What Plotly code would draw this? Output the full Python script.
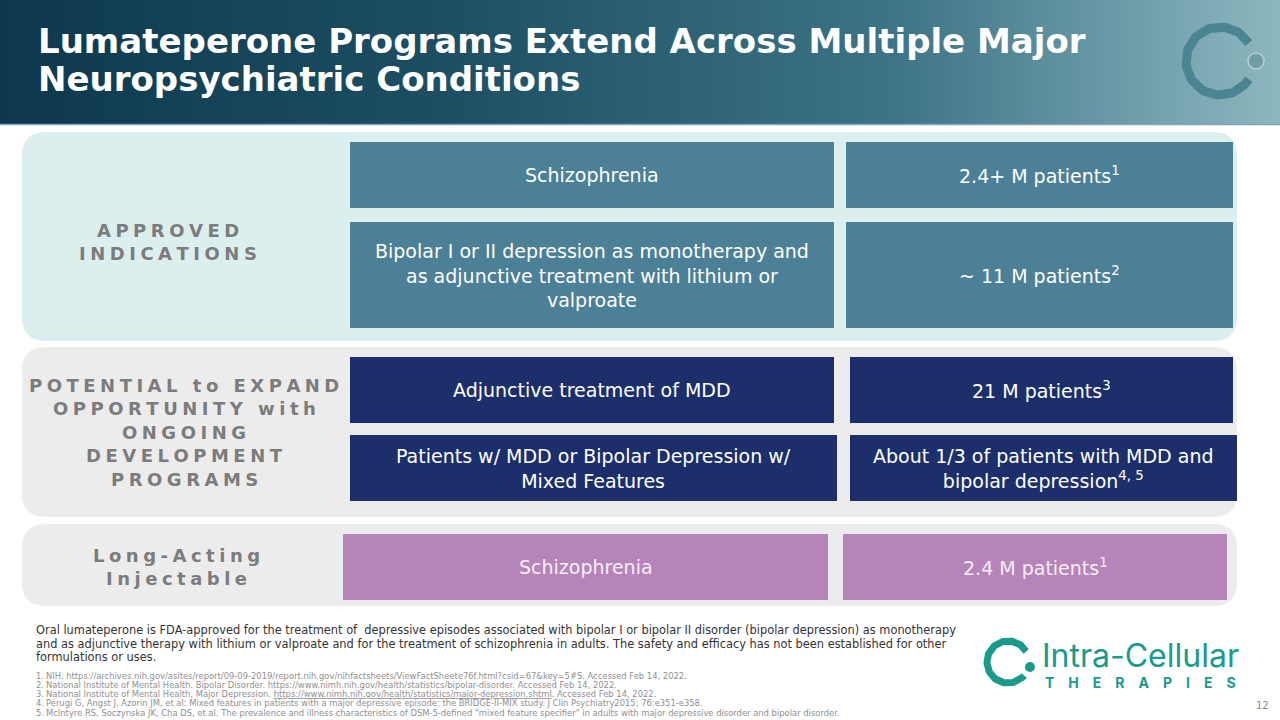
import numpy as np
import plotly.graph_objects as go

# ---------------- data ----------------
title_lines = ["Lumateperone Programs Extend Across Multiple Major", "Neuropsychiatric Conditions"]
section_labels = [
    ["APPROVED", "INDICATIONS"],
    ["POTENTIAL to EXPAND", "OPPORTUNITY with", "ONGOING", "DEVELOPMENT", "PROGRAMS"],
    ["Long-Acting", "Injectable"],
]
indications = [
    "Schizophrenia",
    "Bipolar I or II depression as monotherapy and<br>as adjunctive treatment with lithium or<br>valproate",
    "Adjunctive treatment of MDD",
    "Patients w/ MDD or Bipolar Depression w/<br>Mixed Features",
    "Schizophrenia",
]
patients = [
    "2.4+ M patients<sup>1</sup>",
    "~ 11 M patients<sup>2</sup>",
    "21 M patients<sup>3</sup>",
    "About 1/3 of patients with MDD and<br>bipolar depression<sup>4, 5</sup>",
    "2.4 M patients<sup>1</sup>",
]
row_section = [0, 0, 1, 1, 2]
disclaimer = [
    "Oral lumateperone is FDA-approved for the treatment of  depressive episodes associated with bipolar I or bipolar II disorder (bipolar depression) as monotherapy",
    "and as adjunctive therapy with lithium or valproate and for the treatment of schizophrenia in adults. The safety and efficacy has not been established for other",
    "formulations or uses.",
]
footnotes = [
    "NIH. https://archives.nih.gov/asites/report/09-09-2019/report.nih.gov/nihfactsheets/ViewFactSheete76f.html?csid=67&key=5#S. Accessed Feb 14, 2022.",
    "National Institute of Mental Health. Bipolar Disorder. https://www.nimh.nih.gov/health/statistics/bipolar-disorder. Accessed Feb 14, 2022.",
    "National Institute of Mental Health, Major Depression. <u>https://www.nimh.nih.gov/health/statistics/major-depression.shtml</u>. Accessed Feb 14, 2022.",
    "Perugi G, Angst J, Azorin JM, et al: Mixed features in patients with a major depressive episode: the BRIDGE-II-MIX study. J Clin Psychiatry2015; 76:e351-e358.",
    "McIntyre RS, Soczynska JK, Cha DS, et al. The prevalence and illness characteristics of DSM-5-defined \"mixed feature specifier\" in adults with major depressive disorder and bipolar disorder.",
]
page_number = "12"

# ---------------- layout geometry / styles ----------------
FONT = "DejaVu Sans"
section_panels = [(22, 1237, 132, 341, "#dcefef"), (22, 1237, 347, 517, "#ececec"), (22, 1237, 524, 606, "#ececec")]
section_label_pos = [(168, 242), (184, 432), (176, 567)]
section_colors = ["#4b8096", "#1c2f6b", "#b585b9"]
section_text_colors = ["#ffffff", "#ffffff", "#f8eef8"]
left_boxes = [(350, 834, 142, 208), (350, 834, 222, 328), (350, 834, 357, 423), (350, 837, 435, 501), (343, 828, 534, 600)]
right_boxes = [(846, 1233, 142, 208), (846, 1233, 222, 328), (850, 1233, 357, 423), (850, 1237, 435, 501), (843, 1227, 534, 600)]


def rounded_rect(x0, x1, y0, y1, r):
    return (f"M {x0+r},{y0} L {x1-r},{y0} Q {x1},{y0} {x1},{y0+r} L {x1},{y1-r} Q {x1},{y1} {x1-r},{y1} "
            f"L {x0+r},{y1} Q {x0},{y1} {x0},{y1-r} L {x0},{y0+r} Q {x0},{y0} {x0+r},{y0} Z")


def spaced(s, sep="\u2005"):
    return sep.join(list(s))


fig = go.Figure()
shapes = []
annotations = []

# header gradient band
fig.add_trace(go.Scatter(
    x=[0, 1280, 1280, 0, 0], y=[0, 0, 124, 124, 0], mode="lines", line=dict(width=0),
    fill="toself", hoverinfo="skip", showlegend=False,
    fillgradient=dict(type="horizontal", colorscale=[[0, "#0e384c"], [0.35, "#1d4f63"], [0.7, "#3d7486"], [1, "#8db7c0"]]),
))
shapes.append(dict(type="line", x0=0, x1=1280, y0=124.5, y1=124.5, line=dict(color="#7fa6b1", width=1.5)))

# header logo (open ring + sphere)
th = np.linspace(np.deg2rad(32), np.deg2rad(328), 80)
cx, cy, rr = 1220, 61, 34
fig.add_trace(go.Scatter(x=cx + rr * np.cos(th), y=cy - rr * np.sin(th), mode="lines",
                         line=dict(color="#4a8591", width=9), hoverinfo="skip", showlegend=False))
fig.add_trace(go.Scatter(x=[1256], y=[61], mode="markers",
                         marker=dict(size=16, color="#6f9ca6", line=dict(color="#b9d4d9", width=1.5)),
                         hoverinfo="skip", showlegend=False))

for i, line in enumerate(title_lines):
    annotations.append(dict(x=36, y=41 + i * 38, text=line, showarrow=False, xanchor="left", yanchor="middle",
                            font=dict(family=FONT, size=34, color="#ffffff", weight=700)))

# section panels and labels
for (x0, x1, y0, y1, col), lines, (lx, ly) in zip(section_panels, section_labels, section_label_pos):
    shapes.append(dict(type="path", path=rounded_rect(x0, x1, y0, y1, 24), fillcolor=col, line=dict(width=0), layer="below"))
    n = len(lines)
    for j, ln in enumerate(lines):
        annotations.append(dict(x=lx, y=ly + (j - (n - 1) / 2) * 23.5, text=spaced(ln), showarrow=False,
                                xanchor="center", yanchor="middle",
                                font=dict(family=FONT, size=18, color="#7c7c7c", weight=700)))

# indication / patient boxes
for i in range(len(indications)):
    s = row_section[i]
    for (x0, x1, y0, y1), txt in ((left_boxes[i], indications[i]), (right_boxes[i], patients[i])):
        shapes.append(dict(type="rect", x0=x0, x1=x1, y0=y0, y1=y1, fillcolor=section_colors[s],
                           line=dict(width=0), layer="below"))
        annotations.append(dict(x=(x0 + x1) / 2, y=(y0 + y1) / 2, text=txt, showarrow=False,
                                xanchor="center", yanchor="middle", align="center",
                                font=dict(family=FONT, size=19, color=section_text_colors[s])))

# disclaimer
for i, line in enumerate(disclaimer):
    annotations.append(dict(x=34, y=630 + i * 13.5, text=line, showarrow=False, xanchor="left", yanchor="middle",
                            font=dict(family=FONT, size=11.4, color="#333333")))

# footnotes
for i, line in enumerate(footnotes):
    yy = 675.5 + i * 9.3
    annotations.append(dict(x=34, y=yy, text=f"{i+1}.", showarrow=False, xanchor="left", yanchor="middle",
                            font=dict(family=FONT, size=8.4, color="#8f8f8f")))
    annotations.append(dict(x=44, y=yy, text=line, showarrow=False, xanchor="left", yanchor="middle",
                            font=dict(family=FONT, size=8.4, color="#8f8f8f")))

# bottom-right company logo
th2 = np.linspace(np.deg2rad(30), np.deg2rad(320), 80)
fig.add_trace(go.Scatter(x=1008 + 21 * np.cos(th2), y=662 - 21 * np.sin(th2), mode="lines",
                         line=dict(color="#1a9a8a", width=7), hoverinfo="skip", showlegend=False))
fig.add_trace(go.Scatter(x=[1030], y=[667], mode="markers", marker=dict(size=10, color="#1a9a8a"),
                         hoverinfo="skip", showlegend=False))
annotations.append(dict(x=1040, y=655, text="Intra-Cellular", showarrow=False, xanchor="left", yanchor="middle",
                        font=dict(family="Inter", size=32, color="#1a9a8a", weight=400)))
annotations.append(dict(x=1140, y=682, text=spaced("THERAPIES", "\u2003"), showarrow=False, xanchor="center",
                        yanchor="middle", font=dict(family="Inter", size=14, color="#1a9a8a", weight=700)))
annotations.append(dict(x=1262, y=705, text=page_number, showarrow=False, xanchor="center", yanchor="middle",
                        font=dict(family=FONT, size=10, color="#8a8a8a")))

fig.update_layout(
    width=1280, height=720, margin=dict(l=0, r=0, t=0, b=0),
    paper_bgcolor="#ffffff", plot_bgcolor="#ffffff",
    xaxis=dict(range=[0, 1280], visible=False, fixedrange=True),
    yaxis=dict(range=[720, 0], visible=False, fixedrange=True),
    shapes=shapes, annotations=annotations, showlegend=False,
)
fig.write_html("out.html", config={"displayModeBar": False},
               post_script="document.body.style.margin='0';document.body.style.overflow='hidden';")
